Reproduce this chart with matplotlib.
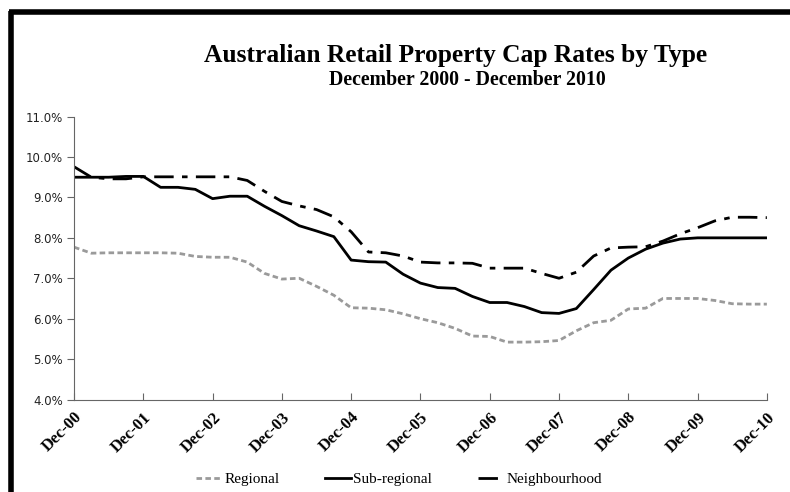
import matplotlib
matplotlib.use("Agg")
import matplotlib.pyplot as plt
from matplotlib.lines import Line2D
import numpy as np

# quarterly cap rates (%), Dec-00 .. Dec-10
regional = [7.77, 7.62, 7.63, 7.63, 7.63, 7.63, 7.62, 7.54, 7.52, 7.52,
            7.40, 7.12, 6.98, 7.00, 6.80, 6.58, 6.27, 6.26, 6.22, 6.12,
            6.00, 5.90, 5.76, 5.57, 5.56, 5.42, 5.42, 5.43, 5.46, 5.70,
            5.90, 5.96, 6.24, 6.26, 6.50, 6.50, 6.50, 6.45, 6.37, 6.36,
            6.36]
sub_regional = [9.50, 9.50, 9.50, 9.52, 9.52, 9.25, 9.25, 9.20, 8.97, 9.03,
                9.03, 8.78, 8.55, 8.30, 8.17, 8.03, 7.45, 7.41, 7.40, 7.10,
                6.88, 6.77, 6.75, 6.55, 6.40, 6.40, 6.30, 6.15, 6.13, 6.25,
                6.72, 7.20, 7.50, 7.72, 7.87, 7.97, 8.00, 8.00, 8.00, 8.00,
                8.00]
neighbourhood = [9.76, 9.50, 9.46, 9.46, 9.51, 9.51, 9.51, 9.51, 9.51, 9.51,
                 9.42, 9.15, 8.90, 8.79, 8.70, 8.52, 8.15, 7.65, 7.63, 7.55,
                 7.40, 7.38, 7.38, 7.37, 7.25, 7.25, 7.25, 7.12, 7.00, 7.15,
                 7.55, 7.75, 7.77, 7.78, 7.92, 8.10, 8.25, 8.42, 8.51, 8.51,
                 8.50]
year_labels = ["Dec-00", "Dec-01", "Dec-02", "Dec-03", "Dec-04", "Dec-05",
               "Dec-06", "Dec-07", "Dec-08", "Dec-09", "Dec-10"]
y_ticks = [4, 5, 6, 7, 8, 9, 10, 11]

serif = "Liberation Serif"

fig = plt.figure(figsize=(7.9, 4.92), dpi=100)
ax = fig.add_axes([0.0937, 0.188, 0.877, 0.575])

x = np.arange(len(regional))
ax.plot(x, regional, color="#9a9a9a", lw=2, ls=(0, (2, 1.2)), label="Regional")
ax.plot(x, sub_regional, color="black", lw=2, label="Sub-regional")
ax.plot(x, neighbourhood, color="black", lw=2, ls=(0, (7, 3, 2, 3)),
        label="Neighbourhood")

ax.set_xlim(0, len(regional) - 1)
ax.set_ylim(4, 11)
ax.set_xticks(np.arange(0, len(regional), 4))
ax.set_xticklabels(year_labels, rotation=45, ha="right", va="top",
                   rotation_mode="anchor", fontfamily=serif,
                   fontweight="bold", fontsize=12)
ax.set_yticks(y_ticks)
ax.set_yticklabels(["%.1f%%" % v for v in y_ticks], fontsize=8.5,
                   color="#222222")

for side in ("top", "right"):
    ax.spines[side].set_visible(False)
for side in ("left", "bottom"):
    ax.spines[side].set_color("#666666")
ax.tick_params(axis="y", direction="out", length=5, color="#666666", pad=3)
ax.tick_params(axis="x", direction="in", length=5, color="#666666", pad=7)

fig.text(0.577, 0.874, "Australian Retail Property Cap Rates by Type",
         ha="center", va="baseline", fontfamily=serif, fontweight="bold",
         fontsize=18.4)
fig.text(0.591, 0.827, "December 2000 - December 2010", ha="center",
         va="baseline", fontfamily=serif, fontweight="bold", fontsize=14.3)

fig.legend(loc="center", bbox_to_anchor=(0.505, 0.026), ncol=3,
           frameon=False, handlelength=1.7, handletextpad=0.15,
           columnspacing=3.0, prop={"family": serif, "size": 11})

# black frame along the top and left edges
fig.add_artist(Line2D([0.0108, 1.0], [0.9746, 0.9746], color="black", lw=4,
                      transform=fig.transFigure, solid_capstyle="butt"))
fig.add_artist(Line2D([0.0133, 0.0133], [0.0, 0.978], color="black", lw=4,
                      transform=fig.transFigure, solid_capstyle="butt"))

fig.savefig("out.png", dpi=100)
